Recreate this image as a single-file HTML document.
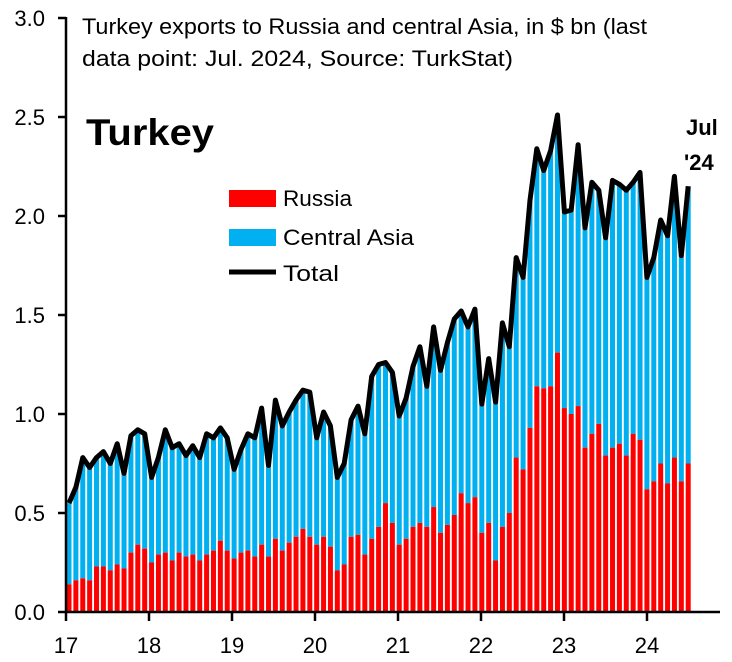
<!DOCTYPE html>
<html><head><meta charset="utf-8"><style>
html,body{margin:0;padding:0;background:#fff;}
svg{display:block;font-family:"Liberation Sans",Arial,sans-serif;}
</style></head><body>
<svg id="c" width="732" height="662" viewBox="0 0 732 662" xmlns="http://www.w3.org/2000/svg">
<rect width="732" height="662" fill="#fff"/>
<g id="bars"></g>
<polyline id="tot" fill="none" stroke="#000" stroke-width="5" stroke-linejoin="round" points=""/>
<g stroke="#000" stroke-width="2.5">
<line x1="66" y1="17" x2="66" y2="613"/>
<line x1="65" y1="612" x2="720" y2="612"/>
<line x1="58" y1="18" x2="66" y2="18"/><line x1="58" y1="117" x2="66" y2="117"/><line x1="58" y1="216" x2="66" y2="216"/><line x1="58" y1="315" x2="66" y2="315"/><line x1="58" y1="414" x2="66" y2="414"/><line x1="58" y1="513" x2="66" y2="513"/><line x1="58" y1="612" x2="66" y2="612"/>
<line x1="66" y1="612" x2="66" y2="621"/><line x1="149" y1="612" x2="149" y2="621"/><line x1="232" y1="612" x2="232" y2="621"/><line x1="315" y1="612" x2="315" y2="621"/><line x1="398" y1="612" x2="398" y2="621"/><line x1="481" y1="612" x2="481" y2="621"/><line x1="564" y1="612" x2="564" y2="621"/><line x1="647" y1="612" x2="647" y2="621"/>
</g>
<g font-size="22" fill="#000" text-anchor="end">
<text x="45" y="26">3.0</text><text x="45" y="125">2.5</text><text x="45" y="224">2.0</text><text x="45" y="323">1.5</text><text x="45" y="422">1.0</text><text x="45" y="521">0.5</text><text x="45" y="620">0.0</text>
</g>
<g font-size="22" fill="#000" text-anchor="middle">
<text x="66" y="653">17</text><text x="149" y="653">18</text><text x="232" y="653">19</text><text x="315" y="653">20</text><text x="398" y="653">21</text><text x="481" y="653">22</text><text x="564" y="653">23</text><text x="647" y="653">24</text>
</g>
<text x="82" y="34" font-size="22" textLength="565" lengthAdjust="spacingAndGlyphs">Turkey exports to Russia and central Asia, in $ bn (last</text>
<text x="82" y="66" font-size="22" textLength="431" lengthAdjust="spacingAndGlyphs">data point: Jul. 2024, Source: TurkStat)</text>
<text x="86" y="145" font-size="37" font-weight="bold" textLength="128" lengthAdjust="spacingAndGlyphs">Turkey</text>
<text x="686" y="135" font-size="22" font-weight="bold">Jul</text>
<text x="684" y="170" font-size="22" font-weight="bold">'24</text>
<rect x="229" y="190" width="47" height="17" fill="#ff0000"/>
<rect x="229" y="229" width="47" height="17" fill="#00b0f0"/>
<line x1="229" y1="272" x2="276" y2="272" stroke="#000" stroke-width="5"/>
<text x="283" y="206" font-size="22" textLength="69" lengthAdjust="spacingAndGlyphs">Russia</text>
<text x="283" y="245" font-size="22" textLength="131" lengthAdjust="spacingAndGlyphs">Central Asia</text>
<text x="283" y="281" font-size="22" textLength="56" lengthAdjust="spacingAndGlyphs">Total</text>
</svg>
<script>
var T=[0.55,0.63,0.78,0.73,0.78,0.81,0.75,0.85,0.70,0.89,0.92,0.90,0.68,0.78,0.92,0.83,0.85,0.79,0.84,0.78,0.90,0.88,0.93,0.88,0.72,0.82,0.90,0.88,1.03,0.74,1.07,0.94,1.01,1.07,1.12,1.11,0.88,1.01,0.94,0.68,0.75,0.97,1.04,0.90,1.19,1.25,1.26,1.21,0.99,1.08,1.24,1.34,1.14,1.44,1.22,1.36,1.48,1.52,1.44,1.53,1.05,1.28,1.06,1.46,1.34,1.79,1.69,2.08,2.34,2.23,2.33,2.51,2.02,2.03,2.36,1.94,2.17,2.13,1.89,2.18,2.16,2.13,2.17,2.22,1.69,1.79,1.98,1.90,2.20,1.80,2.15];
var R=[0.14,0.16,0.17,0.16,0.23,0.23,0.21,0.24,0.22,0.30,0.34,0.32,0.25,0.29,0.30,0.26,0.30,0.28,0.29,0.26,0.29,0.31,0.36,0.31,0.27,0.30,0.31,0.28,0.34,0.28,0.37,0.31,0.35,0.38,0.42,0.38,0.34,0.38,0.33,0.21,0.24,0.38,0.39,0.29,0.37,0.43,0.55,0.45,0.34,0.37,0.43,0.45,0.43,0.53,0.40,0.44,0.49,0.60,0.55,0.58,0.40,0.45,0.26,0.43,0.50,0.78,0.72,0.93,1.14,1.13,1.14,1.31,1.03,1.00,1.04,0.83,0.90,0.95,0.79,0.83,0.85,0.79,0.90,0.87,0.62,0.66,0.75,0.65,0.78,0.66,0.75];
var ns="http://www.w3.org/2000/svg",g=document.getElementById("bars"),pts=[];
function Y(v){return 612-v*198;}
for(var i=0;i<T.length;i++){
 var x=66.5+6.88*i,w=5;
 var b=document.createElementNS(ns,"rect");b.setAttribute("x",x);b.setAttribute("width",w);b.setAttribute("y",Y(T[i]));b.setAttribute("height",(T[i]-R[i])*198);b.setAttribute("fill","#00b0f0");g.appendChild(b);
 var r=document.createElementNS(ns,"rect");r.setAttribute("x",x);r.setAttribute("width",w);r.setAttribute("y",Y(R[i]));r.setAttribute("height",R[i]*198);r.setAttribute("fill","#ff0000");g.appendChild(r);
 pts.push((x+w/2).toFixed(1)+","+Y(T[i]).toFixed(1));
}
document.getElementById("tot").setAttribute("points",pts.join(" "));
</script>
</body></html>
